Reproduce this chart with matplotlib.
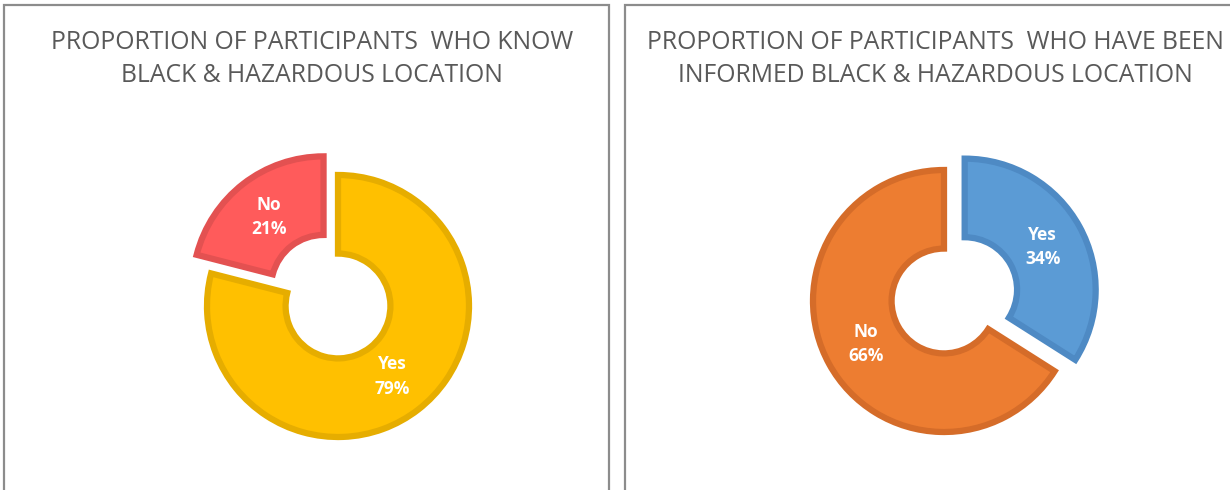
import matplotlib.pyplot as plt
from matplotlib.patches import Rectangle

# data
left_title = "PROPORTION OF PARTICIPANTS  WHO KNOW\nBLACK & HAZARDOUS LOCATION"
left_labels = ["Yes", "No"]
left_values = [79, 21]
left_colors = ["#FFC000", "#FF5B5B"]
left_edges = ["#E6AD00", "#E35151"]
left_explode = [0, 0.18]

right_title = "PROPORTION OF PARTICIPANTS  WHO HAVE BEEN\nINFORMED BLACK & HAZARDOUS LOCATION"
right_labels = ["Yes", "No"]
right_values = [34, 66]
right_colors = ["#5B9BD5", "#ED7D31"]
right_edges = ["#4E8AC4", "#D56C29"]
right_explode = [0.18, 0]

W, H = 1230, 490
fig = plt.figure(figsize=(W / 100, H / 100), dpi=100)

# panel frames
fig.patches.append(Rectangle((4 / W, -0.05), 605 / W, 1.0 - 5 / H + 0.05,
                             transform=fig.transFigure, fill=False,
                             edgecolor="#8C8C8C", linewidth=1.6))
fig.patches.append(Rectangle((625 / W, -0.05), 0.6, 1.0 - 5 / H + 0.05,
                             transform=fig.transFigure, fill=False,
                             edgecolor="#8C8C8C", linewidth=1.6))


def donut(rect, values, labels, colors, edges, explode):
    ax = fig.add_axes(rect)
    wedges, texts = ax.pie(values, labels=[f"{l}\n{v}%" for l, v in zip(labels, values)],
                           colors=colors, explode=explode, startangle=90, counterclock=False,
                           labeldistance=0.68,
                           wedgeprops=dict(width=0.6, linewidth=4.5),
                           textprops=dict(color="white", fontsize=12.5, fontweight="bold",
                                          family="Open Sans", linespacing=1.45))
    for w, ec in zip(wedges, edges):
        w.set_edgecolor(ec)
    for t in texts:
        t.set_ha("center")
        t.set_va("center")
    ax.set_xlim(-1.3, 1.3)
    ax.set_ylim(-1.3, 1.3)
    ax.set_aspect("equal")
    return ax


R = 131
S = 2.6 * R
donut([(338 - S / 2) / W, (184 - S / 2) / H, S / W, S / H],
      left_values, left_labels, left_colors, left_edges, left_explode)
donut([(944 - S / 2) / W, (189 - S / 2) / H, S / W, S / H],
      right_values, right_labels, right_colors, right_edges, right_explode)

title_kw = dict(ha="center", va="center", color="#595959", fontsize=17.8,
                family="Open Sans", linespacing=1.4)
fig.text(312 / W, 1 - 59 / H, left_title, **title_kw)
fig.text(935 / W, 1 - 59 / H, right_title, **title_kw)

fig.savefig("out.png", dpi=100, facecolor="white")
